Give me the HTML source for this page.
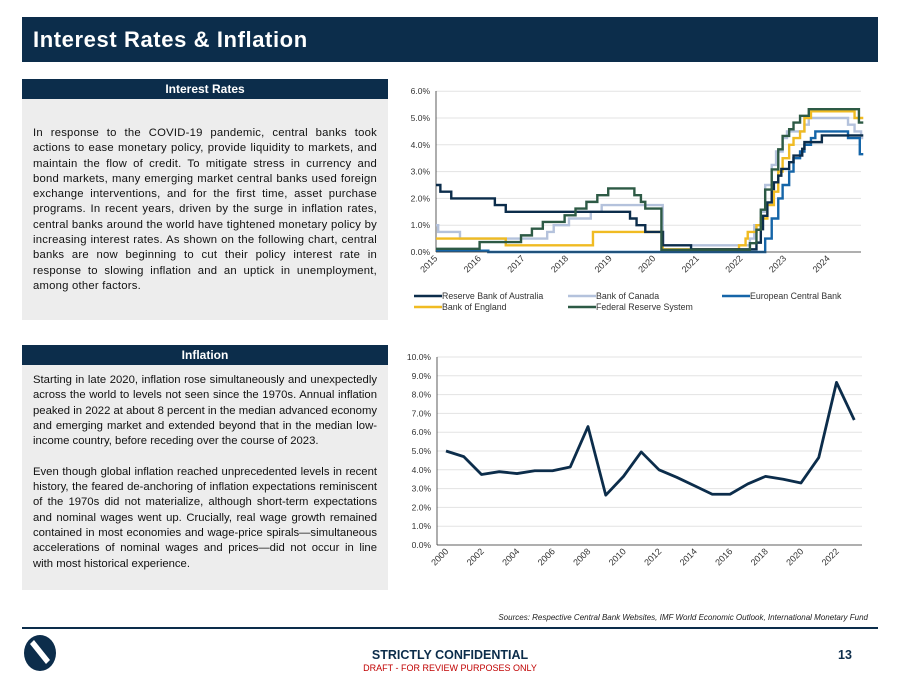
<!DOCTYPE html>
<html><head><meta charset="utf-8"><style>
body{margin:0;width:900px;height:675px;background:#fff;font-family:"Liberation Sans",sans-serif;position:relative;overflow:hidden}
.abs{position:absolute}
.hdr{left:22px;top:17px;width:856px;height:45px;background:#0c2d4b;color:#fff;font-weight:bold;font-size:22px;letter-spacing:0.6px;line-height:45px;padding-left:11px;box-sizing:border-box}
.ph{left:22px;width:366px;height:20px;background:#0c2d4b;color:#fff;font-weight:bold;font-size:12px;text-align:center;line-height:20px}
.pb{left:22px;width:366px;background:#ededed;box-sizing:border-box;padding:0 11px;font-size:11.3px;letter-spacing:0.22px;line-height:15.3px;color:#111;text-align:justify}
svg text{font-family:"Liberation Sans",sans-serif}
</style></head><body>
<div class="abs hdr">Interest Rates &amp; Inflation</div>
<div class="abs ph" style="top:79px">Interest Rates</div>
<div class="abs pb" style="top:99px;height:221px;padding-top:27px">In response to the COVID-19 pandemic, central banks took actions to ease monetary policy, provide liquidity to markets, and maintain the flow of credit. To mitigate stress in currency and bond markets, many emerging market central banks used foreign exchange interventions, and for the first time, asset purchase programs. In recent years, driven by the surge in inflation rates, central banks around the world have tightened monetary policy by increasing interest rates. As shown on the following chart, central banks are now beginning to cut their policy interest rate in response to slowing inflation and an uptick in unemployment, among other factors.</div>
<div class="abs ph" style="top:345px">Inflation</div>
<div class="abs pb" style="top:365px;height:225px;padding-top:8px;letter-spacing:0px">Starting in late 2020, inflation rose simultaneously and unexpectedly across the world to levels not seen since the 1970s. Annual inflation peaked in 2022 at about 8 percent in the median advanced economy and emerging market and extended beyond that in the median low-income country, before receding over the course of 2023.<br><br>Even though global inflation reached unprecedented levels in recent history, the feared de-anchoring of inflation expectations reminiscent of the 1970s did not materialize, although short-term expectations and nominal wages went up. Crucially, real wage growth remained contained in most economies and wage-price spirals—simultaneous accelerations of nominal wages and prices—did not occur in line with most historical experience.</div>

<svg class="abs" style="left:0;top:0" width="900" height="675" id="charts"></svg>

<div class="abs" style="left:0;top:613px;width:868px;text-align:right;font-size:8px;font-style:italic;color:#222">Sources: Respective Central Bank Websites, IMF World Economic Outlook, International Monetary Fund</div>
<div class="abs" style="left:22px;top:627px;width:856px;height:2px;background:#0c2d4b"></div>
<svg class="abs" style="left:22px;top:634px" width="40" height="38"><ellipse cx="18" cy="19" rx="16" ry="18" fill="#0c2d4b"/><path d="M8 10 L24 30 L28 26 L12 6 Z" fill="#fff"/></svg>
<div class="abs" style="left:0;top:648px;width:900px;text-align:center;font-weight:bold;font-size:12.5px;color:#0c2d4b">STRICTLY CONFIDENTIAL</div>
<div class="abs" style="left:0;top:663px;width:900px;text-align:center;font-size:9px;color:#c00000">DRAFT - FOR REVIEW PURPOSES ONLY</div>
<div class="abs" style="left:838px;top:648px;font-weight:bold;font-size:12.5px;color:#0c2d4b">13</div>

<script>
const rateYTicks=[0,1,2,3,4,5,6];
const rateXTicks=[2015,2016,2017,2018,2019,2020,2021,2022,2023,2024];
const rateEnd=2024.8;
const seriesNames=["Reserve Bank of Australia","Bank of Canada","European Central Bank","Bank of England","Federal Reserve System"];
const rba=[[2015,2.5],[2015.1,2.25],[2015.35,2.0],[2016.35,1.75],[2016.6,1.5],[2019.45,1.25],[2019.6,1.0],[2019.8,0.75],[2020.2,0.25],[2020.85,0.1],[2022.35,0.35],[2022.45,0.85],[2022.5,1.35],[2022.6,1.85],[2022.7,2.35],[2022.75,2.6],[2022.85,2.85],[2022.92,3.1],[2023.1,3.35],[2023.2,3.6],[2023.4,3.85],[2023.45,4.1],[2023.85,4.35]];
const boc=[[2015,1.0],[2015.05,0.75],[2015.55,0.5],[2017.55,0.75],[2017.7,1.0],[2018.05,1.25],[2018.55,1.5],[2018.8,1.75],[2020.2,0.75],[2020.22,0.25],[2022.2,0.5],[2022.3,1.0],[2022.45,1.5],[2022.55,2.5],[2022.7,3.25],[2022.8,3.75],[2022.95,4.25],[2023.05,4.5],[2023.45,4.75],[2023.55,5.0],[2024.45,4.75],[2024.6,4.5],[2024.75,4.25]];
const ecb=[[2015,0.05],[2016.2,0.0],[2022.55,0.5],[2022.7,1.25],[2022.85,2.0],[2022.95,2.5],[2023.1,3.0],[2023.2,3.5],[2023.35,3.75],[2023.45,4.0],[2023.6,4.25],[2023.7,4.5],[2024.45,4.25],[2024.72,3.65]];
const boe=[[2015,0.5],[2016.6,0.25],[2018.6,0.75],[2020.2,0.1],[2021.95,0.25],[2022.1,0.5],[2022.15,0.75],[2022.35,1.0],[2022.45,1.25],[2022.6,1.75],[2022.75,2.25],[2022.85,3.0],[2022.95,3.5],[2023.1,4.0],[2023.2,4.25],[2023.35,4.5],[2023.45,5.0],[2023.6,5.25],[2024.6,5.0]];
const fed=[[2015,0.12],[2016.0,0.37],[2016.95,0.62],[2017.2,0.87],[2017.45,1.12],[2017.95,1.37],[2018.2,1.62],[2018.45,1.87],[2018.7,2.12],[2018.95,2.37],[2019.55,2.12],[2019.7,1.87],[2019.8,1.62],[2020.17,0.08],[2022.2,0.33],[2022.35,0.83],[2022.45,1.58],[2022.55,2.33],[2022.7,3.08],[2022.85,3.83],[2022.95,4.33],[2023.1,4.58],[2023.2,4.83],[2023.35,5.08],[2023.55,5.33],[2024.7,4.83]];
const inflYears=[2000,2001,2002,2003,2004,2005,2006,2007,2008,2009,2010,2011,2012,2013,2014,2015,2016,2017,2018,2019,2020,2021,2022,2023];
const inflValues=[5.0,4.7,3.75,3.9,3.8,3.95,3.95,4.15,6.3,2.65,3.65,4.95,4.0,3.6,3.15,2.7,2.7,3.25,3.65,3.5,3.3,4.65,8.65,6.65];
const inflYTicks=[0,1,2,3,4,5,6,7,8,9,10];
const inflXTicks=[2000,2002,2004,2006,2008,2010,2012,2014,2016,2018,2020,2022];

const svg=document.getElementById('charts');
const NS='http://www.w3.org/2000/svg';
function mk(tag,attrs,parent){const e=document.createElementNS(NS,tag);for(const k in attrs)e.setAttribute(k,attrs[k]);(parent||svg).appendChild(e);return e;}

const rx=y=>436+(y-2015)*43.6;
const ry=v=>252-v*26.8;
rateYTicks.forEach(t=>{
  const g=mk('line',{x1:436,x2:861,y1:ry(t),y2:ry(t),stroke:'#e3e3e3','stroke-width':1});
  
  
  const l=mk('text',{x:430,y:ry(t)+3,'text-anchor':'end','font-size':8.5,fill:'#333'});
  l.textContent=t.toFixed(1)+'%';
  
  
});
const ax1=mk('line',{x1:436,x2:436,y1:91,y2:252,stroke:'#333','stroke-width':0.8});


rateXTicks.forEach(t=>{
  const x=rx(t)+2;
  const l=mk('text',{x:x,y:259,'text-anchor':'end','font-size':9,fill:'#333',transform:`rotate(-45 ${x} 259)`});
  l.textContent=t;
  
  
});
const colors=['#0c2d4b','#b4c2dc','#1565a8','#f0bb22','#2d5a45'];
const order=[1,2,3,0,4];
const data=[rba,boc,ecb,boe,fed];
order.forEach(i=>{
  const s=data[i];let d='';
  s.forEach((p,j)=>{
    const x=rx(p[0]),y=ry(p[1]);
    if(j===0)d+=`M${x},${y}`;else d+=`H${x}V${y}`;
  });
  d+=`H${rx(rateEnd)}`;
  const p=mk('path',{d:d,fill:'none',stroke:colors[i],'stroke-width':2.4});
  
  
});
const xb1=mk('line',{x1:436,x2:861,y1:252,y2:252,stroke:'#333','stroke-width':0.8});


const legPos=[[414,296],[568,296],[722,296],[414,307],[568,307]];
seriesNames.forEach((n,i)=>{
  const [x,y]=legPos[i];
  const g=mk('g',{});
  
  
  mk('line',{x1:x,x2:x+28,y1:y,y2:y,stroke:colors[i],'stroke-width':2.6},g);
  const t=mk('text',{x:x+28,y:y+3,'font-size':8.8,fill:'#333'},g);
  t.textContent=n;
});

const ix=y=>446+(y-2000)*17.75;
const iy=v=>545-v*18.8;
inflYTicks.forEach(t=>{
  const g=mk('line',{x1:437,x2:862,y1:iy(t),y2:iy(t),stroke:'#e3e3e3','stroke-width':1});
  
  
  const l=mk('text',{x:431,y:iy(t)+3,'text-anchor':'end','font-size':8.5,fill:'#333'});
  l.textContent=t.toFixed(1)+'%';
  
  
});
const ax2=mk('line',{x1:437,x2:437,y1:357,y2:545,stroke:'#333','stroke-width':0.8});


const xb2=mk('line',{x1:437,x2:862,y1:545,y2:545,stroke:'#333','stroke-width':0.8});


inflXTicks.forEach(t=>{
  const x=ix(t)+3;
  const l=mk('text',{x:x,y:552,'text-anchor':'end','font-size':9,fill:'#333',transform:`rotate(-45 ${x} 552)`});
  l.textContent=t;
  
  
});
const pts=inflYears.map((y,i)=>ix(y)+','+iy(inflValues[i])).join(' ');
const pl=mk('polyline',{points:pts,fill:'none',stroke:'#0c2d4b','stroke-width':2.8,'stroke-linejoin':'round'});


</script>
</body></html>
